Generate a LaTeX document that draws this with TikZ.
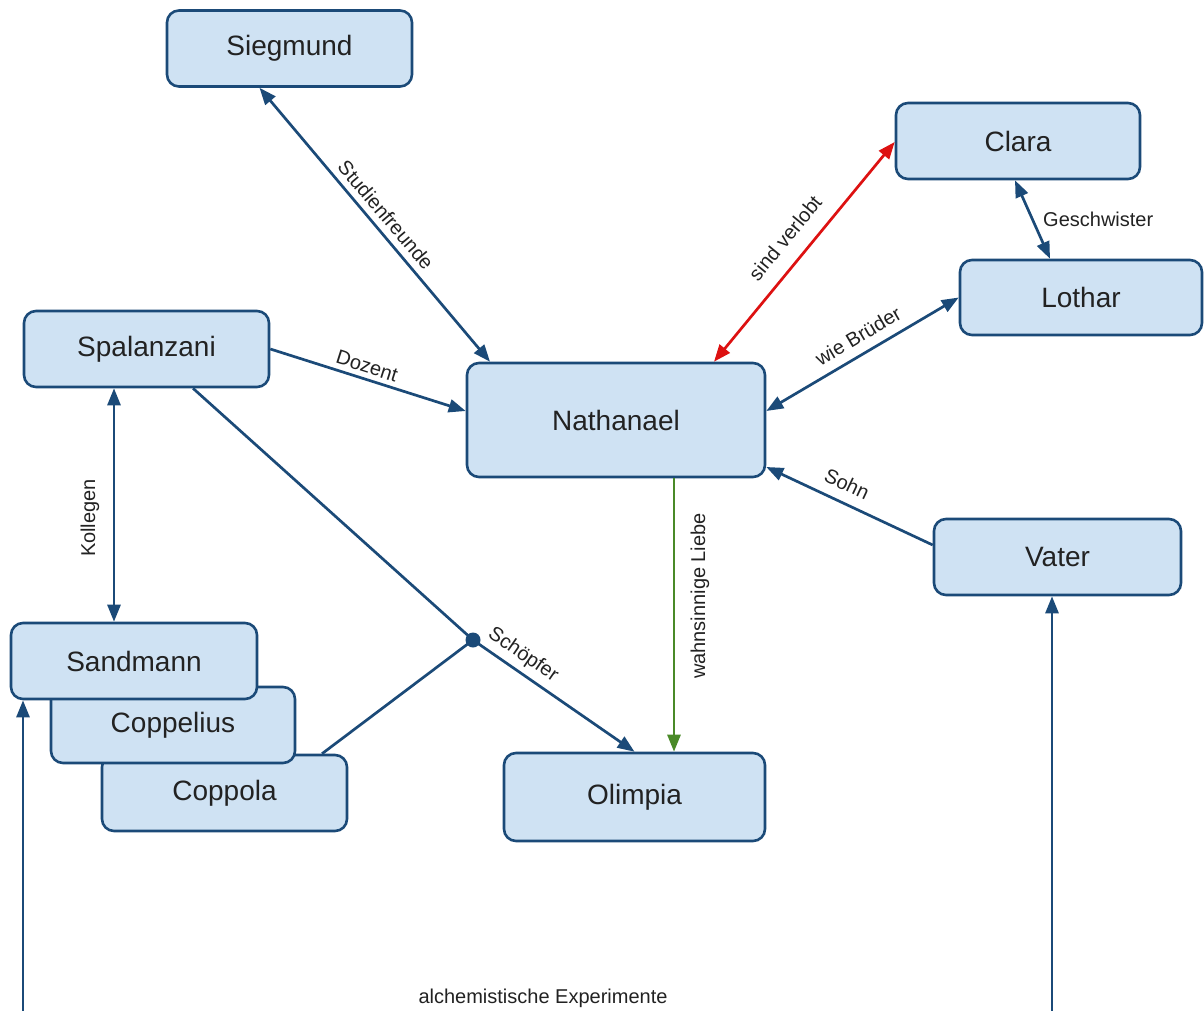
\documentclass[tikz,border=0pt]{standalone}
\usepackage{fontspec}
\setmainfont{Liberation Sans}
\usetikzlibrary{arrows.meta,calc}
\definecolor{bord}{HTML}{1B4A78}
\definecolor{boxfill}{HTML}{CFE2F3}
\definecolor{txt}{HTML}{222222}
\definecolor{redline}{HTML}{DD1111}
\definecolor{greenline}{HTML}{4A8A28}
\begin{document}
\begin{tikzpicture}[x=1pt,y=-1pt,
  box/.style={draw=bord, fill=boxfill, line width=2.6pt, rounded corners=12pt, inner sep=0pt,
    font=\fontsize{28}{32}\selectfont, text=txt},
  conn/.style={draw=bord, line width=2.7pt},
  lbl/.style={font=\fontsize{20}{24}\selectfont, text=txt, inner sep=1pt},
  tipend/.style={-{Triangle[length=17pt,width=13pt]}},
  tipboth/.style={{Triangle[length=17pt,width=13pt]}-{Triangle[length=17pt,width=13pt]}}]
\useasboundingbox (0,0) rectangle (1204,1011);

% nodes
\node[box, minimum width=245pt, minimum height=76pt] (sieg) at (289.5,48.5) {Siegmund};
\node[box, minimum width=244pt, minimum height=76pt] (clara) at (1018,141) {Clara};
\node[box, minimum width=242pt, minimum height=75pt] (lothar) at (1081,297.5) {Lothar};
\node[box, minimum width=245pt, minimum height=76pt] (spal) at (146.5,349) {Spalanzani};
\node[box, minimum width=298pt, minimum height=114pt] (nath) at (616,420) {Nathanael};
\node[box, minimum width=247pt, minimum height=76pt] (vater) at (1057.5,557) {Vater};
\node[box, minimum width=245pt, minimum height=76pt] (copa) at (224.5,793) {Coppola};
\node[box, minimum width=244pt, minimum height=76pt] (cope) at (173,725) {Coppelius};
\node[box, minimum width=246pt, minimum height=76pt] (sand) at (134,661) {Sandmann};
\node[box, minimum width=261pt, minimum height=88pt] (olim) at (634.5,797) {Olimpia};

\coordinate (dot) at (473,640);
\coordinate (c1) at (1052,1012);
\coordinate (c2) at (23,1012);

% connectors
\draw[conn, tipboth] ([xshift=-30pt]sieg.south) -- ([xshift=-126pt]nath.north);
\draw[conn, tipend] (spal.east) -- ($(nath.west)+(0,-9)$);
\draw[conn, draw=redline, tipboth] ([xshift=98pt]nath.north) -- ($(clara.west)+(0,1)$);
\draw[conn, tipboth] ([xshift=-3pt]clara.south) -- ([xshift=-31pt]lothar.north);
\draw[conn, tipboth] ($(nath.east)+(0,-9)$) -- (lothar.west);
\draw[conn, tipend] ($(vater.west)+(0,-12)$) -- ($(nath.east)+(0,47)$);
\draw[conn, draw=greenline, tipend] ([xshift=58pt]nath.south) -- ([xshift=39.5pt]olim.north);
\draw[conn, tipboth] ([xshift=-32.5pt]spal.south) -- ([xshift=-20pt]sand.north);
\draw[conn] ([xshift=46.5pt]spal.south) -- (dot);
\draw[conn] ([xshift=97.5pt]copa.north) -- (dot);
\draw[conn, tipend] (dot) -- (olim.north);
\fill[bord] (dot) circle (7.5pt);
\draw[conn, tipboth] ([xshift=-5.5pt]vater.south) -- (c1) -- (c2) -- ([xshift=-111pt]sand.south);

% labels
\node[lbl, rotate=-49.7] (l1) at (386,215) {Studienfreunde};
\node[lbl, rotate=-17.6] (l2) at (367,366) {Dozent};
\node[lbl, rotate=50.6] (l3) at (785,238) {sind verlobt};
\node[lbl, anchor=west] (l4) at (1042,219) {Geschwister};
\node[lbl, rotate=30.6] (l5) at (858,336) {wie Brüder};
\node[lbl, rotate=-25.2] (l6) at (847,484) {Sohn};
\node[lbl, rotate=90] (l7) at (700,596) {wahnsinnige Liebe};
\node[lbl, rotate=90] (l8) at (90,518) {Kollegen};
\node[lbl, rotate=-34.6] (l9) at (523,655) {Schöpfer};
\node[lbl] (l10) at (543,998) {alchemistische Experimente};
\end{tikzpicture}
\end{document}
